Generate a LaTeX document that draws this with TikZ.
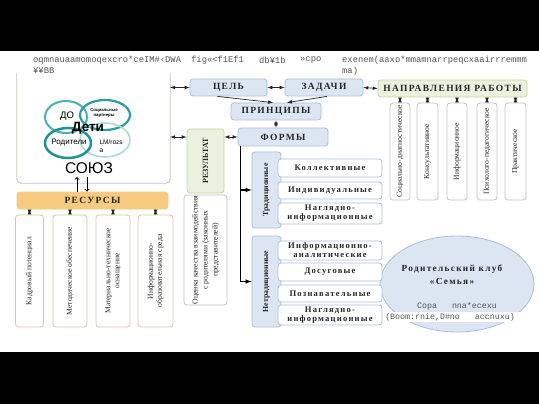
\documentclass[tikz,border=0pt]{standalone}
\usepackage{fontspec}
\setmainfont{Liberation Serif}
\setsansfont{Liberation Sans}
\setmonofont{Liberation Mono}
\newfontfamily\spaced[LetterSpace=14]{Liberation Serif}
\usepackage{graphicx}
\usepackage{tikz}
\usetikzlibrary{arrows,shapes.geometric,positioning}

\definecolor{bluefill}{HTML}{DCE6F2}
\definecolor{blueline}{HTML}{A9BFDC}
\definecolor{greenfill}{HTML}{EBF1DE}
\definecolor{greenline}{HTML}{C3D69B}
\definecolor{orangefill}{HTML}{F7CB7F}
\definecolor{resline}{HTML}{E2BFB0}
\definecolor{greyline}{HTML}{C8C2BC}
\definecolor{tealA}{HTML}{48B3B3}
\definecolor{tealB}{HTML}{2A9FA2}
\definecolor{tealC}{HTML}{1E9497}
\definecolor{tealD}{HTML}{A5D8D8}
\definecolor{txtgrey}{HTML}{555555}

\tikzset{
  box/.style={draw, rounded corners=3pt, line width=0.8pt, inner sep=0pt, text=black!85},
  bluebox/.style={box, draw=blueline, fill=bluefill},
  greenbox/.style={box, draw=greenline, fill=greenfill},
  whitebox/.style={box, draw=greyline, fill=white},
  resbox/.style={box, draw=resline, fill=white},
  head/.style={font=\spaced\bfseries\fontsize{9.5}{10}\selectfont},
  item/.style={box, draw=blueline, fill=white, minimum width=104pt, align=center,
    font=\spaced\bfseries\fontsize{8.6}{9}\selectfont},
  vtext/.style={font=\fontsize{7.6}{9}\selectfont},
  link/.style={<->, >=latex, line width=0.7pt, black!85},
  garble/.style={font=\ttfamily\fontsize{8.8}{10}\selectfont, text=txtgrey, anchor=west, inner sep=0pt},
}

\begin{document}
\begin{tikzpicture}[x=1pt, y=-1pt]
\fill[black] (0,0) rectangle (539,404);
\fill[white] (0,51) rectangle (539,352);
\useasboundingbox (0,0) rectangle (539,404);

% scanned line at the top
\node[garble] (g1) at (33,60) {oqmnauaamomoqexcro*ceIM\#‹DWA};
\node[garble] (g2) at (191,60) {fig«<f1Ef1};
\node[garble] (g3) at (259,60) {db¥1b};
\node[garble] (g4) at (300,60) {»cpo};
\node[garble] (g5) at (342,60) {exenem(aaxo*mmamnarrpeqcxaairrremmm};
\node[garble] (g6) at (33,71) {¥¥BB};
\node[garble] (g7) at (342,71) {ma)};

% left panel
\node (panel) at (93.5,128) [minimum width=153pt, minimum height=110pt] {};
\draw[greyline, line width=0.8pt, rounded corners=4pt] (panel.north west) -- (panel.south west) -- (panel.south east) -- (panel.north east);
\draw[line width=2pt, tealA] (66,117) ellipse [x radius=21pt, y radius=16pt];
\draw[line width=2.2pt, tealB] (105,115) ellipse [x radius=25pt, y radius=15pt];
\draw[line width=1.5pt, tealD] (105,140) ellipse [x radius=25pt, y radius=17pt];
\draw[line width=2.5pt, tealC] (68,143) ellipse [x radius=23pt, y radius=15pt];
\node[font=\sffamily\fontsize{9.5}{9}\selectfont] (do) at (67,116) {ДО};
\node[font=\sffamily\bfseries\fontsize{4.3}{4.3}\selectfont, align=center] (partners) at (104,113) {Социальные\\партнеры};
\node[font=\sffamily\bfseries\fontsize{13.5}{13}\selectfont] (deti) at (88,128) {Дети};
\node[font=\sffamily\fontsize{8}{8}\selectfont] (parents) at (69,143) {Родители};
\node[font=\sffamily\fontsize{6.5}{8}\selectfont, align=left, anchor=west] (teachers) at (96,146) {LM/rozs\\a};
\node[font=\sffamily\fontsize{15.5}{15}\selectfont] (soyuz) at (89,168) {СОЮЗ};

% resources
\node[box, draw=orangefill, fill=orangefill, minimum width=151pt, minimum height=17pt, head] (resursy) at (92.5,200.5) {РЕСУРСЫ};
\draw[->, >=to, line width=0.9pt] ([xshift=-12pt]soyuz.south |- resursy.north) -- ([xshift=-12pt]soyuz.south);
\draw[->, >=to, line width=0.9pt] ([xshift=-2pt]soyuz.south) -- ([xshift=-2pt]soyuz.south |- resursy.north);
\node[resbox, minimum width=28pt, minimum height=112pt, vtext] (res1) at (29.5,271) {\rotatebox{90}{Кадровый потенциал}};
\node[resbox, minimum width=34pt, minimum height=112pt, vtext] (res2) at (70,271) {\rotatebox{90}{Методическое обеспечение}};
\node[resbox, minimum width=34pt, minimum height=112pt, vtext] (res3) at (113,271) {\rotatebox{90}{\begin{tabular}{@{}c@{}}Материально-техническое\\оснащение\end{tabular}}};
\node[resbox, minimum width=35pt, minimum height=112pt, vtext] (res4) at (155.5,271) {\rotatebox{90}{\begin{tabular}{@{}c@{}}Информационно-\\образовательная среда\end{tabular}}};
\foreach \r in {res1,res2,res3,res4}
  \draw[link] (\r.north |- resursy.south) -- (\r.north);

% centre column
\node[bluebox, head, minimum width=77pt, minimum height=17pt] (goal) at (228.5,87.5) {ЦЕЛЬ};
\node[bluebox, head, minimum width=78pt, minimum height=17pt] (tasks) at (324,87.5) {ЗАДАЧИ};
\node[greenbox, head, minimum width=149pt, minimum height=17pt] (areas) at (452.5,88.5) {НАПРАВЛЕНИЯ РАБОТЫ};
\node[bluebox, head, minimum width=90pt, minimum height=17pt] (principles) at (276,111.5) {ПРИНЦИПЫ};
\node[bluebox, head, minimum width=90pt, minimum height=18pt] (forms) at (283,137) {ФОРМЫ};
\node[greenbox, minimum width=37pt, minimum height=64pt, font=\bfseries\fontsize{8}{8}\selectfont] (result) at (205.5,161) {\rotatebox{90}{РЕЗУЛЬТАТ}};
\node[whitebox, minimum width=43pt, minimum height=110pt, font=\fontsize{7.7}{10}\selectfont] (quality) at (205.5,250) {\rotatebox{90}{\begin{tabular}{@{}c@{}}Оценка качества взаимодействия\\с родителями (законных\\представителей)\end{tabular}}};

\draw[link] (goal.west -| panel.east) -- (goal.west);
\draw[link] (goal.east) -- (tasks.west);
\draw[link] (tasks.east) -- (areas.west);
\draw[->, >=latex, line width=0.7pt, black!85] ([xshift=-11pt]goal.south) -- ([xshift=-3pt]principles.north);
\draw[->, >=latex, line width=0.7pt, black!85] ([xshift=3pt]tasks.south) -- ([xshift=11pt]principles.north);
\draw[link] (principles.south) -- (principles.south |- forms.north);
\draw[link] ([yshift=24pt]result.west -| panel.east) -- ([yshift=24pt]result.west);
\draw[link] (forms.west -| result.east) -- (forms.west);

% directions of work
\node[whitebox, minimum width=20pt, minimum height=97pt, vtext] (dir1) at (400,151.5) {\rotatebox{90}{Социально-диагностическое}};
\node[whitebox, minimum width=21pt, minimum height=97pt, vtext] (dir2) at (427.5,151.5) {\rotatebox{90}{Консультативное}};
\node[whitebox, minimum width=20pt, minimum height=97pt, vtext] (dir3) at (457,151.5) {\rotatebox{90}{Информационное}};
\node[whitebox, minimum width=20pt, minimum height=97pt, vtext] (dir4) at (487,151.5) {\rotatebox{90}{Психолого-педагогическое}};
\node[whitebox, minimum width=21pt, minimum height=97pt, vtext] (dir5) at (515.5,151.5) {\rotatebox{90}{Практическое}};
\foreach \d in {dir1,dir2,dir3,dir4,dir5}
  \draw[link] (\d.north |- areas.south) -- (\d.north);

% parents' club
\node[ellipse, draw=blueline, fill=bluefill, line width=0.8pt, minimum width=154pt, minimum height=96pt] (club) at (457,284) {};
\node[font=\spaced\bfseries\fontsize{9.3}{13}\selectfont, align=center, text=black!85] (clubname) at (452,275) {Родительский клуб\\«Семья»};
\node[garble, anchor=center, font=\ttfamily\fontsize{8.3}{10}\selectfont] (g8) at (457,306) {Copa~~~nna*ecexu};
\node[garble, anchor=center, font=\ttfamily\fontsize{8.3}{10}\selectfont, fill=white, minimum width=140pt, minimum height=10pt] (g9) at (450,317) {(Boom:rnie,D\#no~~~accnuxu)};

% forms
\node[bluebox, minimum width=29pt, minimum height=76pt, font=\bfseries\fontsize{7.8}{8}\selectfont] (trad) at (266.5,190) {\rotatebox{90}{Традиционные}};
\node[bluebox, minimum width=29pt, minimum height=91pt, font=\bfseries\fontsize{7.8}{8}\selectfont] (nontrad) at (266.5,281.5) {\rotatebox{90}{Нетрадиционные}};
\node[item, minimum height=18pt] (collective) at (330,168) {Коллективные};
\node[item, minimum height=17pt] (individual) at (330,190.5) {Индивидуальные};
\node[item, minimum height=21pt] (visual1) at (330,213.5) {Наглядно-\\информационные};
\node[item, minimum height=19pt] (analytic) at (330,250.5) {Информационно-\\аналитические};
\node[item, minimum height=18pt] (leisure) at (330,272) {Досуговые};
\node[item, minimum height=17pt] (cognitive) at (330,293.5) {Познавательные};
\node[item, minimum height=20pt] (visual2) at (330,315) {Наглядно-\\информационные};

\coordinate (fork) at ([xshift=3pt]forms.south west);
\draw[->, >=latex, line width=1.1pt] (fork) |- (nontrad.west);
\draw[->, >=latex, line width=1.1pt] (fork |- trad.west) -- (trad.west);
\end{tikzpicture}
\end{document}
